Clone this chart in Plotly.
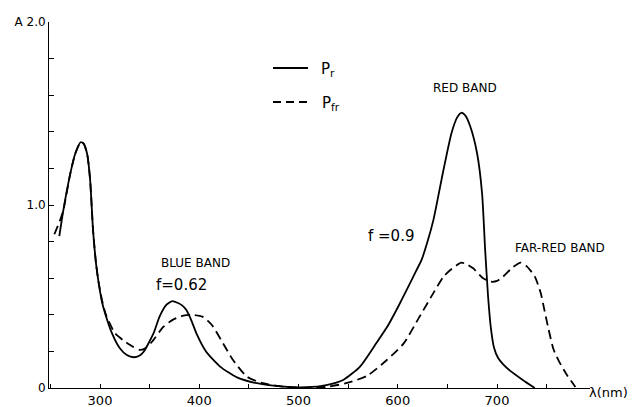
import plotly.graph_objects as go

# Absorption spectra of phytochrome (wavelength in nm, absorbance A)
pr_wavelength = [259, 263, 270, 275, 280.5, 283.5, 287, 290, 293, 296, 298.5, 302, 305, 312,
                 320, 327, 334, 340, 344, 354, 360, 367, 373, 378, 383, 387, 392, 397, 407,
                 421, 438, 458, 485, 508, 528, 545, 562, 579, 590, 600, 609, 619, 624, 630,
                 636, 646, 654, 660, 664, 668, 673, 680, 685, 688, 691, 694, 697, 701, 706,
                 713, 726, 738]
pr_absorbance = [0.83, 0.97, 1.17, 1.28, 1.343, 1.335, 1.28, 1.14, 0.86, 0.68, 0.58, 0.47, 0.41, 0.30,
                 0.217, 0.18, 0.168, 0.178, 0.198, 0.30, 0.39, 0.455, 0.475, 0.466, 0.45, 0.426, 0.37, 0.30, 0.198,
                 0.117, 0.058, 0.026, 0.007, 0.004, 0.016, 0.044, 0.117, 0.25, 0.34, 0.44, 0.536, 0.645, 0.70, 0.80,
                 0.92, 1.19, 1.39, 1.48, 1.504, 1.49, 1.43, 1.28, 1.06, 0.76, 0.50, 0.32, 0.22, 0.165, 0.13,
                 0.095, 0.044, 0.0]

pfr_wavelength = [254, 260, 263, 270, 275, 280.5, 283.5, 287, 290, 293, 296, 298.5, 302, 306,
                  315, 323, 333, 340, 345, 352, 364, 374, 384, 392, 403, 410, 414, 424, 434,
                  448, 464, 491, 510, 528, 548, 569, 589, 606, 622, 636, 646, 653, 664, 670,
                  676, 686, 694, 700, 706, 716, 724, 730, 738, 744, 748, 752, 757, 763, 770, 779]
pfr_absorbance = [0.84, 0.92, 0.97, 1.17, 1.28, 1.343, 1.335, 1.28, 1.14, 0.86, 0.68, 0.58, 0.48, 0.40,
                  0.30, 0.262, 0.226, 0.208, 0.215, 0.25, 0.335, 0.375, 0.395, 0.40, 0.39, 0.36, 0.335, 0.244, 0.153,
                  0.062, 0.026, 0.004, 0.0, 0.006, 0.026, 0.066, 0.153, 0.244, 0.39, 0.52, 0.608, 0.645, 0.685, 0.675,
                  0.654, 0.60, 0.581, 0.585, 0.608, 0.66, 0.685, 0.665, 0.61, 0.52, 0.42, 0.32, 0.21, 0.14, 0.075, 0.005]

x_tick_values = [300, 400, 500, 600, 700]
x_tick_labels = ["300", "400", "500", "600", "700"]
y_tick_values = [0, 1.0, 2.0]
y_tick_labels = ["0", "1.0", "A 2.0"]

W, H = 638, 407
L, R, T, B = 49, 590, 22, 388
X0, X1 = 248.6, 793.7

def px(x):
    return (x - L) / (R - L)

def py(y):
    return (B - y) / (B - T)

FONT = "DejaVu Sans"

fig = go.Figure()
fig.add_trace(go.Scatter(x=pr_wavelength, y=pr_absorbance, mode="lines",
                         line=dict(color="black", width=1.8, shape="spline", smoothing=0.6),
                         showlegend=False, name="Pr"))
fig.add_trace(go.Scatter(x=pfr_wavelength, y=pfr_absorbance, mode="lines",
                         line=dict(color="black", width=1.8, dash="9px,5px", shape="spline", smoothing=0.6),
                         showlegend=False, name="Pfr"))

# legend drawn manually
fig.add_shape(type="line", xref="paper", yref="paper", x0=px(273), x1=px(308), y0=py(68), y1=py(68),
              line=dict(color="black", width=1.8))
fig.add_shape(type="line", xref="paper", yref="paper", x0=px(273), x1=px(307), y0=py(102), y1=py(102),
              line=dict(color="black", width=1.8, dash="8px,5px"))

annotations = [
    dict(text="P<sub>r</sub>", x=px(319), y=py(69), xanchor="left", size=15),
    dict(text="P<sub>fr</sub>", x=px(320), y=py(103), xanchor="left", size=15),
    dict(text="RED BAND", x=px(465), y=py(88), xanchor="center", size=12),
    dict(text="BLUE BAND", x=px(195), y=py(263), xanchor="center", size=12),
    dict(text="f=0.62", x=px(181), y=py(285), xanchor="center", size=15),
    dict(text="f =0.9", x=px(391), y=py(236), xanchor="center", size=15),
    dict(text="FAR-RED BAND", x=px(513), y=py(248), xanchor="left", size=12),
    dict(text="λ(nm)", x=px(587), y=py(393), xanchor="left", size=13),
]
for a in annotations:
    fig.add_annotation(text=a["text"], x=a["x"], y=a["y"], xref="paper", yref="paper",
                       xanchor=a["xanchor"], yanchor="middle", showarrow=False,
                       font=dict(family=FONT, size=a["size"], color="black"))

fig.update_layout(
    width=W, height=H,
    margin=dict(l=L, r=W - R, t=T, b=H - B, pad=0),
    paper_bgcolor="white", plot_bgcolor="white",
    font=dict(family=FONT, color="black"),
    xaxis=dict(range=[X0, X1], showgrid=False, zeroline=False, showline=True, linecolor="black",
               linewidth=1, ticks="inside", ticklen=4, tickcolor="black", tickwidth=1,
               tickvals=x_tick_values, ticktext=x_tick_labels, tickfont=dict(size=13),
               minor=dict(ticks="inside", ticklen=4, tickcolor="black", tickwidth=1,
                          tick0=250, dtick=50, showgrid=False),
               automargin=False),
    yaxis=dict(range=[0, 2.0], showgrid=False, zeroline=False, showline=True, linecolor="black",
               linewidth=1, ticks="inside", ticklen=5, tickcolor="black", tickwidth=1,
               tickvals=y_tick_values, ticktext=y_tick_labels, tickfont=dict(size=12),
               minor=dict(ticks="inside", ticklen=5, tickcolor="black", tickwidth=1,
                          tick0=0, dtick=0.2, showgrid=False),
               automargin=False),
)

fig.write_html("out.html")
